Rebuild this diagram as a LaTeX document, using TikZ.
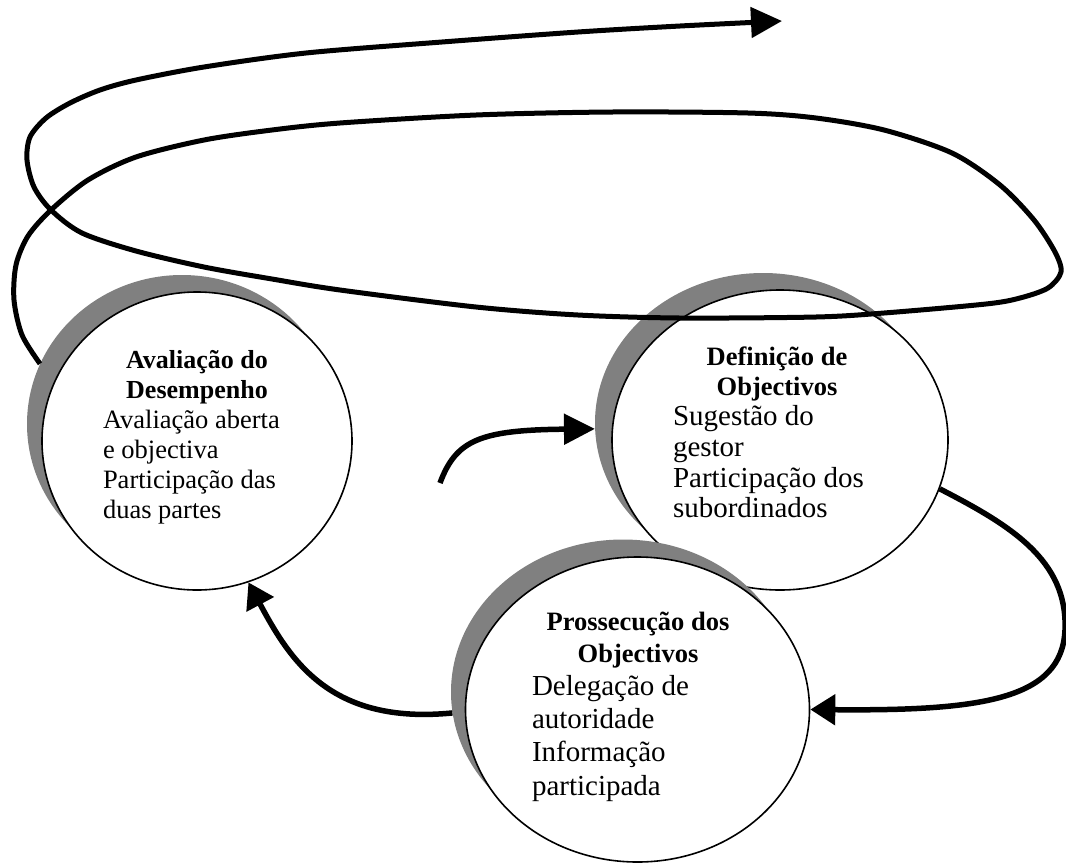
\documentclass[tikz,border=0pt]{standalone}
\usepackage{fontspec}
\setmainfont{Liberation Serif}
\usetikzlibrary{shapes.geometric,arrows.meta}

\definecolor{shadowgray}{RGB}{128,128,128}

\tikzset{
  shadowdisc/.style={ellipse, fill=shadowgray, draw=none, inner sep=0pt},
  disc/.style={ellipse, fill=white, draw=black, line width=1.6pt, inner sep=0pt},
  blocktxt/.style={anchor=base west, inner sep=0pt, outer sep=0pt},
  flowshort/.style={line width=5.5pt, -{Triangle[length=25pt,width=30pt]}},
  flowlong/.style={line width=5.5pt, -{Triangle[length=31pt,width=30pt]}},
  loopline/.style={line width=5pt, line join=round, -{Triangle[length=31pt,width=30pt]}}
}

\begin{document}
\begin{tikzpicture}[x=1pt,y=-1pt]
\useasboundingbox (0,0) rectangle (1066,863);

% Definição de Objectivos
\node[shadowdisc, minimum width=336pt, minimum height=300pt] (s2) at (763,423) {};
\node[disc, minimum width=336pt, minimum height=300pt] (c2) at (780,440) {};

% Prossecução dos Objectivos
\node[shadowdisc, minimum width=344pt, minimum height=305pt] (s3) at (623,692) {};
\node[disc, minimum width=344pt, minimum height=305pt] (c3) at (637.5,709.5) {};

% Avaliação do Desempenho
\node[shadowdisc, minimum width=310pt, minimum height=298pt] (s1) at (182,424) {};
\node[disc, minimum width=310pt, minimum height=298pt] (c1) at (197,441) {};

% texts
\node[blocktxt] (t1) at (103,368) {\parbox[t]{188pt}{%
  \centering\fontsize{26}{30}\selectfont\bfseries Avaliação do\\Desempenho\par
  \raggedright\fontsize{26.5}{30}\selectfont\mdseries
  Avaliação aberta\\e objectiva\\Participação das\\duas partes\par}};

\node[blocktxt] (t2) at (673,365) {\parbox[t]{208pt}{%
  \centering\fontsize{26.5}{30}\selectfont\bfseries Definição de\\Objectivos\par
  \raggedright\fontsize{29}{30.7}\selectfont\mdseries
  Sugestão do\\gestor\\Participação dos\\subordinados\par}};

\node[blocktxt] (t3) at (532,630) {\parbox[t]{212pt}{%
  \centering\fontsize{26.5}{32}\selectfont\bfseries Prossecução dos\\Objectivos\par
  \raggedright\fontsize{29}{33.3}\selectfont\mdseries
  Delegação de\\autoridade\\Informação\\participada\par}};

% cycle connectors
\coordinate (bstart) at (440,483);
\draw[flowlong] (bstart) .. controls (456,440) and (480,430) .. (s2.182);
\draw[flowshort] (c2.343) .. controls (1010,525) and (1068,560) .. (1065,630)
                 .. controls (1062,700) and (980,711) .. (c3.east);
\draw[flowshort] (s3.187) .. controls (330,725) and (290,660) .. (c1.290);

% spiral loop
\coordinate (loopend) at (782,21);
\draw[loopline] plot[smooth, tension=0.5] coordinates {
  (s1.157) (22,335) (14,300) (16,265) (28,236) (51,210) (88,180) (136,157)
  (204,140) (272,130) (340,123) (476,115) (612,112) (748,113) (816,118)
  (884,130) (952,153) (1000,185) (1034,220) (1055,252) (1061,272)
  (1048,288) (1020,298) (986,304) (884,313) (816,317) (680,318) (578,315)
  (476,307) (340,290) (272,279) (204,267) (136,251) (82,233) (51,210)
  (34,187) (27,160) (30,137) (46,118) (70,103) (100,90) (136,80) (204,67)
  (306,53) (442,42) (578,32) (680,26) (loopend)};

\end{tikzpicture}
\end{document}
